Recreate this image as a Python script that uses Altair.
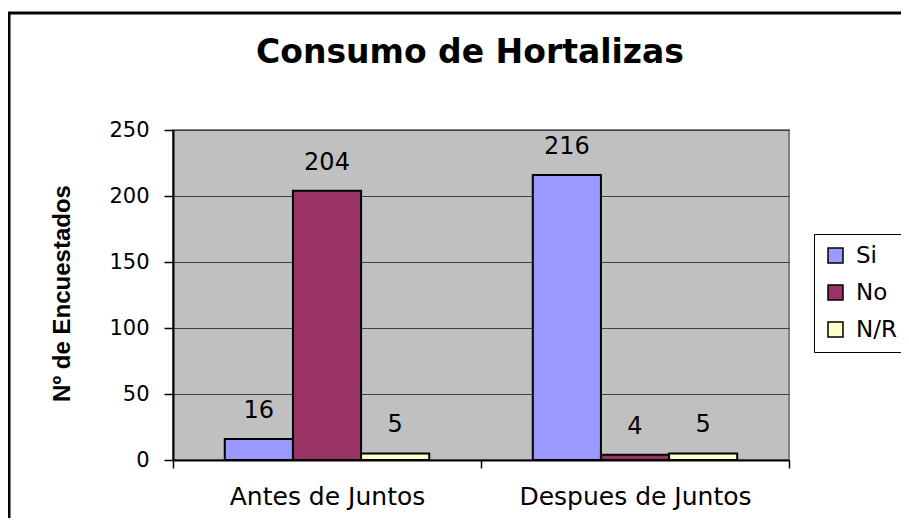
import altair as alt
import pandas as pd

categorias = ["Antes de Juntos", "Despues de Juntos"]
series = ["Si", "No", "N/R"]
valores_si = [16, 216]
valores_no = [204, 4]
valores_nr = [5, 5]
colores = ["#9999FF", "#993366", "#FFFFCC"]
titulo = "Consumo de Hortalizas"
titulo_y = "Nº de Encuestados"
ticks_y = [0, 50, 100, 150, 200, 250]

rows = []
for serie, vals in zip(series, [valores_si, valores_no, valores_nr]):
    for cat, v in zip(categorias, vals):
        rows.append({"grupo": cat, "serie": serie, "valor": v})
df = pd.DataFrame(rows)

W, H = 616, 330
FONT = "DejaVu Sans"

x_enc = alt.X(
    "grupo:N", sort=categorias, title=None,
    scale=alt.Scale(paddingInner=0, paddingOuter=0),
    axis=alt.Axis(labelAngle=0, tickBand="extent", labelFont=FONT, labelFontSize=25,
                  labelColor="black", labelPadding=16, tickSize=8, tickColor="black",
                  tickWidth=1.5, domainColor="black", domainWidth=2, labelBaseline="top",
                  labelBound=False, labelOverlap=False, labelLimit=0, grid=False),
)
xoff_enc = alt.XOffset("serie:N", sort=series,
                       scale=alt.Scale(domain=series, paddingInner=0, paddingOuter=0.76))
y_enc = alt.Y(
    "valor:Q", scale=alt.Scale(domain=[0, 250], nice=False),
    axis=alt.Axis(values=ticks_y, tickSize=9, tickColor="black", tickWidth=1.5,
                  grid=True, gridColor="#404040", gridWidth=1,
                  domainColor="black", domainWidth=2,
                  labelFont=FONT, labelFontSize=21, labelColor="black", labelPadding=15,
                  title=titulo_y, titleFont="Liberation Sans", titleFontSize=24,
                  titleFontWeight="bold", titleColor="black",
                  titleX=-111, titleY=163, titleAngle=270,
                  titleAlign="center", titleBaseline="middle"),
)

base = alt.Chart(df)

bars = base.mark_bar(stroke="black", strokeWidth=2, opacity=1).encode(
    x=x_enc, xOffset=xoff_enc, y=y_enc,
    color=alt.Color(
        "serie:N", sort=series,
        scale=alt.Scale(domain=series, range=colores),
        legend=alt.Legend(title=None, orient="none", legendX=641, legendY=104,
                          strokeColor="black", fillColor="white", padding=10,
                          symbolType="square", symbolSize=225,
                          symbolStrokeColor="black", symbolStrokeWidth=1.5,
                          symbolOpacity=1,
                          labelFont=FONT, labelFontSize=23, labelColor="black",
                          rowPadding=13, labelOffset=9),
    ),
)

labels = base.mark_text(dy=-21, baseline="alphabetic", align="center",
                        font=FONT, fontSize=24, color="black").encode(
    x=x_enc, xOffset=xoff_enc, y=y_enc, text=alt.Text("valor:Q"),
)

one = alt.Data(values=[{}])
border = alt.Chart(one).mark_rect(stroke="black", strokeWidth=3, fillOpacity=0).encode(
    x=alt.value(-164), x2=alt.value(W + 400), y=alt.value(-117), y2=alt.value(H + 300),
)
title = alt.Chart(one).mark_text(text=titulo, font=FONT, fontSize=33, fontWeight="bold",
                                 baseline="alphabetic", align="center", color="black").encode(
    x=alt.value(297), y=alt.value(-67),
)

chart = alt.layer(border, bars, labels, title).properties(
    width=W, height=H,
    padding={"left": 165, "top": 122, "right": 112, "bottom": 58},
    autosize=alt.AutoSizeParams(type="none"),
    background="white",
).configure_view(fill="#C0C0C0", stroke="#808080", strokeWidth=2)

chart.save("out.html", embed_options={"renderer": "svg", "actions": False})
